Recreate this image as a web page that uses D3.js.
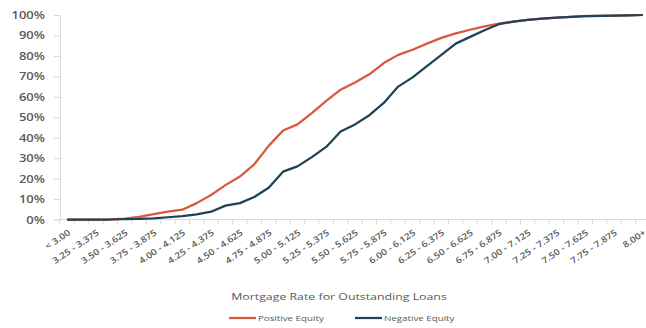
<!DOCTYPE html>
<html>
<head>
<meta charset="utf-8">
<script src="https://cdn.jsdelivr.net/npm/d3@7"></script>
<style>
  html, body { margin: 0; padding: 0; background: #fff; }
  svg { display: block; }
  text { font-family: "Open Sans", "DejaVu Sans", sans-serif; fill: #595959; }
</style>
</head>
<body>
<svg id="chart" width="646" height="328"></svg>
<script>
// Mortgage rate buckets (every other label is shown on the axis)
const categories = [
  "< 3.00", "3.125 - 3.25", "3.25 - 3.375", "3.375 - 3.50", "3.50 - 3.625", "3.625 - 3.75",
  "3.75 - 3.875", "3.875 - 4.00", "4.00 - 4.125", "4.125 - 4.25", "4.25 - 4.375", "4.375 - 4.50",
  "4.50 - 4.625", "4.625 - 4.75", "4.75 - 4.875", "4.875 - 5.00", "5.00 - 5.125", "5.125 - 5.25",
  "5.25 - 5.375", "5.375 - 5.50", "5.50 - 5.625", "5.625 - 5.75", "5.75 - 5.875", "5.875 - 6.00",
  "6.00 - 6.125", "6.125 - 6.25", "6.25 - 6.375", "6.375 - 6.50", "6.50 - 6.625", "6.625 - 6.75",
  "6.75 - 6.875", "6.875 - 7.00", "7.00 - 7.125", "7.125 - 7.25", "7.25 - 7.375", "7.375 - 7.50",
  "7.50 - 7.625", "7.625 - 7.75", "7.75 - 7.875", "7.875 - 8.00", "8.00+"
];

// Cumulative share of outstanding loans (%)
const positiveEquity = [
  0, 0, 0, 0.1, 0.4, 1.3, 2.6, 3.8, 4.8, 8, 12, 16.8, 21, 27, 36, 43.5, 46.5, 52, 58, 63.5, 67,
  71, 76.5, 80.5, 83, 86, 88.8, 91, 92.8, 94.4, 95.8, 96.8, 97.6, 98.2, 98.7, 99.1, 99.4, 99.6,
  99.7, 99.8, 100
];
const negativeEquity = [
  0, 0, 0, 0, 0.2, 0.3, 0.6, 1.1, 1.6, 2.5, 3.8, 6.8, 8, 11, 15.5, 23.4, 26, 30.5, 35.5, 43, 46.5,
  51, 57, 65, 69.5, 75, 80.5, 86, 89.3, 92.5, 95.5, 96.8, 97.6, 98.2, 98.7, 99.1, 99.4, 99.6,
  99.7, 99.8, 100
];

const yTicks = [0, 10, 20, 30, 40, 50, 60, 70, 80, 90, 100];
const xAxisTitle = "Mortgage Rate for Outstanding Loans";
const seriesNames = ["Positive Equity", "Negative Equity"];
const seriesColors = ["#d9583b", "#1f4257"];

const svg = d3.select("#chart");
const plot = { left: 60, right: 650, top: 15, bottom: 219.5 };
const wide = 1.3;   // horizontal stretch of the lettering

const x = d3.scalePoint().domain(categories).range([plot.left, plot.right]).padding(0.5);
const y = d3.scaleLinear().domain([0, 100]).range([plot.bottom, plot.top]);

// Y axis
const yAxis = svg.append("g").attr("transform", `translate(${plot.left},0)`)
  .call(d3.axisLeft(y).tickValues(yTicks).tickSize(6).tickFormat(d => d + "%"));
yAxis.select(".domain").attr("stroke", "#d9d9d9");
yAxis.selectAll(".tick line").attr("stroke", "#d9d9d9");
yAxis.selectAll(".tick text")
  .attr("x", null).attr("dy", null)
  .attr("transform", `translate(-15,0) scale(${wide},1)`)
  .attr("dy", "0.35em")
  .attr("font-size", 10).attr("fill", "#595959")
  .style("font-family", "\"Open Sans\", sans-serif").attr("font-weight", 600);

// X axis: tick per bucket, label every other bucket
const step = x.step();
const xg = svg.append("g").attr("transform", `translate(0,${plot.bottom})`);
xg.append("line").attr("x1", plot.left).attr("x2", plot.right)
  .attr("stroke", "#d9d9d9");
xg.selectAll("line.tk").data(d3.range(categories.length + 1)).join("line")
  .attr("class", "tk")
  .attr("x1", i => plot.left + i * step).attr("x2", i => plot.left + i * step)
  .attr("y1", 0).attr("y2", 5).attr("stroke", "#d9d9d9");
xg.selectAll("text.lbl").data(categories.filter((c, i) => i % 2 === 0)).join("text")
  .attr("class", "lbl")
  .attr("transform", d => `translate(${x(d) + 2},${12}) rotate(-34) scale(1.15,1)`)
  .attr("text-anchor", "end")
  .attr("dy", "0.35em")
  .attr("font-size", 8.7).attr("font-weight", 600)
  .text(d => d);

// Axis title
svg.append("text")
  .attr("transform", `translate(339,300) scale(${wide},1)`)
  .attr("text-anchor", "middle")
  .attr("font-size", 9.5).text(xAxisTitle);

// Lines
const line = d3.line().x((d, i) => x(categories[i])).y(d => y(d));
[positiveEquity, negativeEquity].forEach((vals, k) => {
  svg.append("path").datum(vals).attr("d", line)
    .attr("fill", "none").attr("stroke", seriesColors[k])
    .attr("stroke-width", 2.25).attr("stroke-linejoin", "round");
});

// Legend
const legendX = [229, 355];
seriesNames.forEach((name, k) => {
  const g = svg.append("g").attr("transform", `translate(${legendX[k]},${318})`);
  g.append("line").attr("x1", 0).attr("x2", 27).attr("y1", 0).attr("y2", 0)
    .attr("stroke", seriesColors[k]).attr("stroke-width", 2.25);
  g.append("text")
    .attr("transform", `translate(29,0) scale(${wide},1)`)
    .attr("dy", "0.35em")
    .attr("font-size", 7.5).text(name);
});
</script>
</body>
</html>
